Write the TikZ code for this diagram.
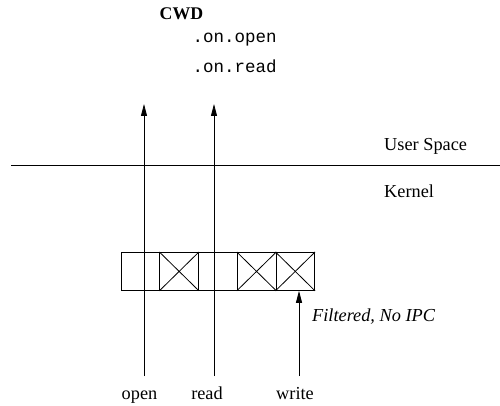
\documentclass[tikz,border=0pt]{standalone}
\usepackage{fontspec}
\setmainfont{Liberation Serif}
\setmonofont{Liberation Mono}
\usetikzlibrary{arrows.meta}
\begin{document}
\begin{tikzpicture}[x=1pt,y=-1pt,
  lbl/.style={font=\fontsize{18.3}{21}\selectfont, inner sep=0pt, anchor=base},
  mono/.style={lbl, font=\fontsize{17.5}{20}\selectfont\ttfamily},
  cell/.style={draw, line width=0.8pt, minimum width=38.7pt, minimum height=38pt, inner sep=0pt, anchor=north west},
  flow/.style={line width=0.8pt, -{Triangle[length=12pt,width=6pt]}}]
\useasboundingbox (0,0) rectangle (500,406);
% texts
\node[lbl, font=\fontsize{17.8}{20}\selectfont\bfseries] (cwd) at (181.5,20) {CWD};
\node[mono] (onopen) at (234.7,43) {.on.open};
\node[mono] (onread) at (234.7,73) {.on.read};
\node[lbl, anchor=base west] (user) at (384,151) {User Space};
\node[lbl, anchor=base west] (kernel) at (384,197) {Kernel};
\node[lbl, anchor=base west, font=\fontsize{18.3}{21}\selectfont\itshape] (filt) at (312,321) {Filtered, No IPC};
\node[lbl] (open) at (139.5,399) {open};
\node[lbl] (read) at (207,399) {read};
\node[lbl] (write) at (295,399) {write};
% boundary line
\coordinate (bl) at (11,165.5);
\coordinate (br) at (500,165.5);
\draw[line width=0.8pt] (bl) -- (br);
% cells
\node[cell]  (c1) at (120.7,252) {};
\node[cell]  (c2) at (159.4,252) {};
\node[cell]  (c3) at (198.1,252) {};
\node[cell]  (c4) at (236.8,252) {};
\node[cell]  (c5) at (275.5,252) {};
\foreach \c in {c2,c4,c5}{
  \draw[line width=0.8pt] (\c.north west) -- (\c.south east) (\c.north east) -- (\c.south west);
}
% flows
\coordinate (os) at (144,376);
\coordinate (oe) at (144,104);
\coordinate (rs) at (214,376);
\coordinate (re) at (214,104);
\coordinate (ws) at (299,376);
\draw[flow] (os) -- (oe);
\draw[flow] (rs) -- (re);
\draw[flow] (ws) -- (ws |- c5.south);
\end{tikzpicture}
\end{document}
